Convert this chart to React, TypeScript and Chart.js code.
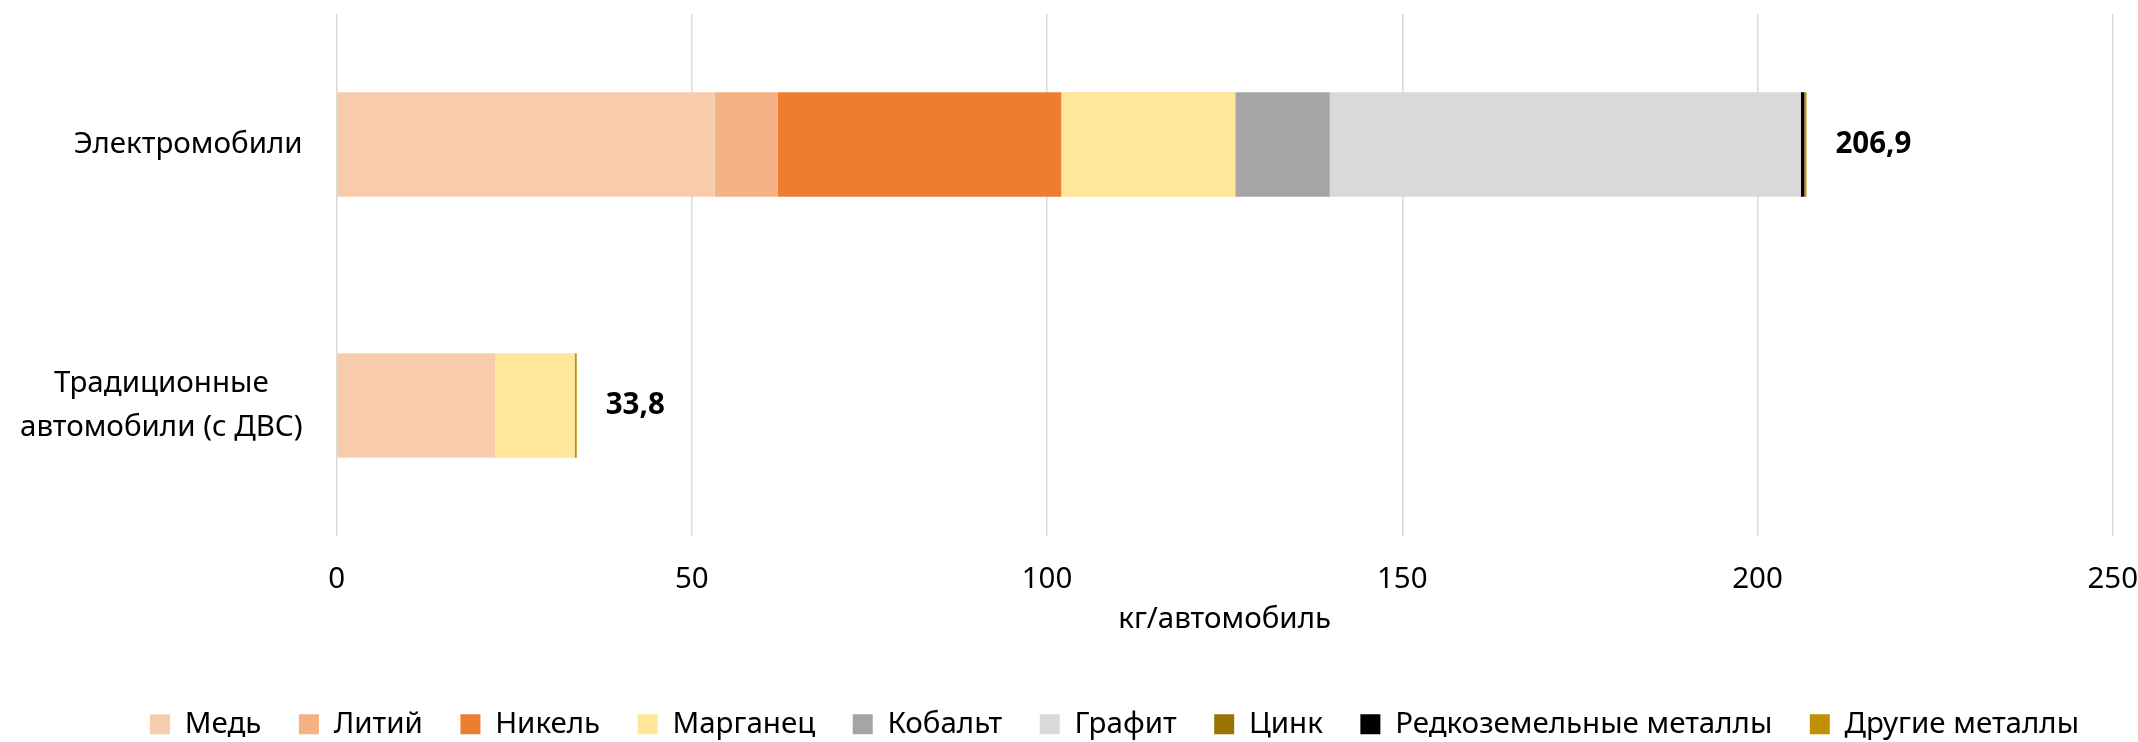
import React, { useEffect, useRef } from 'react';
import { Chart, registerables } from 'chart.js';

Chart.register(...registerables);

const categories: (string | string[])[] = ['Электромобили', ['Традиционные', 'автомобили (с ДВС)']];
const seriesNames = ['Медь', 'Литий', 'Никель', 'Марганец', 'Кобальт', 'Графит', 'Цинк', 'Редкоземельные металлы', 'Другие металлы'];
const copper = [53.2, 22.3];
const lithium = [8.9, 0];
const nickel = [39.9, 0];
const manganese = [24.5, 11.2];
const cobalt = [13.3, 0];
const graphite = [66.3, 0];
const zinc = [0, 0];
const rareEarths = [0.5, 0];
const otherMetals = [0.3, 0.3];
const seriesValues = [copper, lithium, nickel, manganese, cobalt, graphite, zinc, rareEarths, otherMetals];
const seriesColors = ['#F8CBAD', '#F4B183', '#ED7D31', '#FFE699', '#A5A5A5', '#D9D9D9', '#997300', '#000000', '#BF9000'];
const xMin = 0;
const xMax = 250;
const xStep = 50;
const axisTitle = 'кг/автомобиль';

const FONT = '"Noto Sans", "Open Sans", sans-serif';
const FS = 29.5;
const PAD_LEFT = 60;
const PAD_RIGHT = 3.7;
const PLOT_LEFT = 336.6;
const LEGEND_SHIFT = 17.35;

const yLabelPlugin = {
  id: 'yLabels',
  afterDraw(chart: any) {
    const y = chart.scales.y;
    const ctx = chart.ctx;
    ctx.save();
    ctx.font = `${FS}px ${FONT}`;
    ctx.fillStyle = '#000';
    ctx.textBaseline = 'middle';
    ctx.textAlign = 'center';
    const right = chart.chartArea.left - 34;
    categories.forEach((lab, i) => {
      const lines = Array.isArray(lab) ? lab : [lab];
      const w = Math.max(...lines.map((l) => ctx.measureText(l).width));
      const cx = right - w / 2;
      const cy = y.getPixelForValue(i);
      lines.forEach((l, j) => ctx.fillText(l, cx, cy + (j - (lines.length - 1) / 2) * 43.6));
    });
    ctx.restore();
  },
};

const totalsPlugin = {
  id: 'totals',
  afterDatasetsDraw(chart: any) {
    const x = chart.scales.x;
    const y = chart.scales.y;
    const ctx = chart.ctx;
    ctx.save();
    ctx.font = `bold ${FS}px ${FONT}`;
    ctx.fillStyle = '#000';
    ctx.textBaseline = 'middle';
    ctx.textAlign = 'left';
    categories.forEach((_, i) => {
      const total = seriesValues.reduce((s, arr) => s + arr[i], 0);
      const txt = total.toFixed(1).replace('.', ',');
      ctx.fillText(txt, x.getPixelForValue(total) + 29, y.getPixelForValue(i));
    });
    ctx.restore();
  },
};

const legendShiftPlugin = {
  id: 'legendShift',
  afterLayout(chart: any) {
    const lg = chart.legend;
    if (lg) {
      lg.left += LEGEND_SHIFT;
      lg.right += LEGEND_SHIFT;
    }
  },
};

export default function App() {
  const ref = useRef<HTMLCanvasElement>(null);
  useEffect(() => {
    if (!ref.current) return;
    Chart.defaults.font.family = FONT;
    Chart.defaults.color = '#000';
    const legendPad = 37.5;
    const chart = new Chart(ref.current, {
      type: 'bar',
      data: {
        labels: categories as any,
        datasets: seriesNames.map((name, k) => ({
          label: name,
          data: seriesValues[k],
          backgroundColor: seriesColors[k],
          borderWidth: 0,
          categoryPercentage: 1,
          barPercentage: 0.4,
        })),
      },
      options: {
        indexAxis: 'y',
        animation: false,
        responsive: false,
        layout: { padding: { left: PAD_LEFT, right: PAD_RIGHT, top: 14, bottom: -7 } },
        plugins: {
          legend: {
            position: 'bottom',
            labels: {
              font: { size: FS, family: FONT },
              color: '#000',
              boxWidth: 20,
              boxHeight: 20,
              padding: legendPad,
            },
          },
          tooltip: { enabled: false },
        },
        scales: {
          x: {
            stacked: true,
            min: xMin,
            max: xMax,
            ticks: { stepSize: xStep, font: { size: FS }, color: '#000', padding: 0 },
            grid: {
              color: '#D9D9D9',
              lineWidth: 1.5,
              drawTicks: true,
              tickLength: 26.3,
              tickColor: 'rgba(0,0,0,0)',
            },
            border: { display: false },
            title: {
              display: true,
              text: axisTitle,
              font: { size: FS },
              color: '#000',
              padding: { top: 4.6, bottom: 71.8 - legendPad },
            },
          },
          y: {
            stacked: true,
            grid: { display: false, drawTicks: false },
            border: { display: false },
            ticks: { display: false },
            afterFit: (scale: any) => {
              scale.width = PLOT_LEFT - PAD_LEFT;
            },
          },
        },
      },
      plugins: [yLabelPlugin, totalsPlugin, legendShiftPlugin],
    });
    return () => chart.destroy();
  }, []);
  return (
    <div style={{ position: 'absolute', left: 0, top: 0, width: 2138, height: 742, background: '#fff' }}>
      <canvas ref={ref} width={2138} height={742} style={{ display: 'block' }} />
    </div>
  );
}
